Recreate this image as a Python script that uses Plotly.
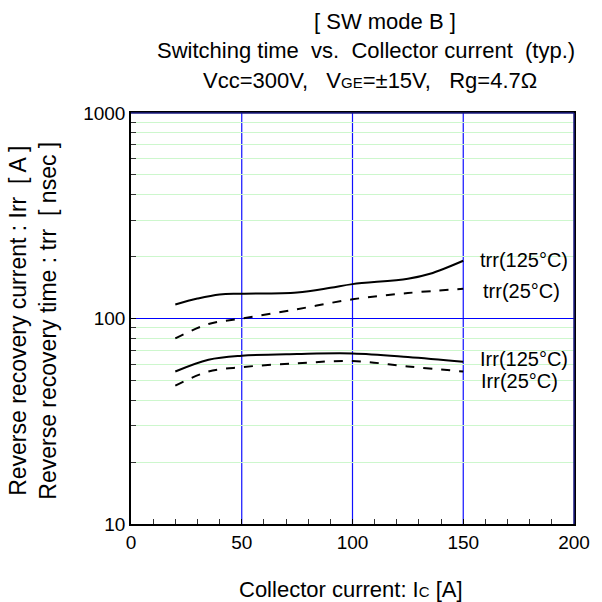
import plotly.graph_objects as go

# ---- data ----
x_trr125 = [20, 30, 40, 50, 75, 90, 100, 125, 135, 150]
y_trr125 = [117, 125, 131, 132, 134, 141, 147, 156, 165, 191]

x_trr25 = [20, 35, 50, 75, 100, 125, 150]
y_trr25 = [80, 94, 100, 111, 124, 133, 139.5]

x_irr125 = [20, 35, 50, 75, 100, 125, 150]
y_irr125 = [55.2, 63, 65.9, 67.2, 67.6, 65, 61.6]

x_irr25 = [20, 35, 50, 75, 100, 125, 150]
y_irr25 = [47.1, 55.2, 58, 60.5, 62.1, 58.4, 55.2]

curve_labels = ["trr(125°C)", "trr(25°C)", "Irr(125°C)", "Irr(25°C)"]
x_major_grid = [50, 100, 150]

FONT = "Arial, Liberation Sans, sans-serif"

fig = go.Figure()
series = [
    (x_trr125, y_trr125, "solid"),
    (x_trr25, y_trr25, "dash"),
    (x_irr125, y_irr125, "solid"),
    (x_irr25, y_irr25, "dash"),
]
for (xs, ys, dash), name in zip(series, curve_labels):
    fig.add_trace(go.Scatter(
        x=xs, y=ys, mode="lines", name=name,
        line=dict(color="black", width=2, dash=dash, shape="spline", smoothing=1.0),
        showlegend=False,
    ))

L, R, T, B = 131, 16, 113, 78
W = H = 602
pw = W - L - R
ph = H - T - B

def px2paper(px, py):
    return (px - L) / pw, (H - B - py) / ph

fig.update_layout(
    width=W, height=H,
    margin=dict(l=L, r=R, t=T, b=B, pad=0),
    paper_bgcolor="white", plot_bgcolor="white",
    font=dict(family=FONT, size=19, color="black"),
    xaxis=dict(
        range=[0, 200], dtick=50, tick0=0,
        showgrid=False,
        zeroline=False,
        showline=True, linecolor="black", linewidth=1.5, mirror=True,
        ticks="inside", ticklen=5, tickcolor="black",
        minor=dict(dtick=10, ticks="inside", ticklen=5, tickcolor="#333333", showgrid=False),
        tickfont=dict(size=19),
    ),
    yaxis=dict(
        type="log", range=[1, 3], dtick=1,
        showgrid=True, gridcolor="#0000ff", gridwidth=1,
        zeroline=False,
        showline=True, linecolor="black", linewidth=1.5, mirror=True,
        ticks="inside", ticklen=5, tickcolor="black",
        minor=dict(dtick="D1", ticks="inside", ticklen=5, tickcolor="#333333",
                   showgrid=True, gridcolor="#cdf7cd", gridwidth=1),
        tickfont=dict(size=19),
    ),
)

# vertical major grid lines (blue)
for gx in x_major_grid:
    fig.add_shape(type="line", xref="x", yref="paper", x0=gx, x1=gx, y0=0, y1=1,
                  line=dict(color="#1010ff", width=1.2), layer="below")

# navy top/right frame
fig.add_shape(type="line", xref="paper", yref="paper", x0=0, x1=1, y0=1, y1=1,
              line=dict(color="#1a1a80", width=1.5))
fig.add_shape(type="line", xref="paper", yref="paper", x0=1, x1=1, y0=0, y1=1,
              line=dict(color="#1a1a80", width=1.5))

# titles
title_lines = [
    ("[ SW mode B ]", 392, 21),
    ("Switching time  vs.  Collector current  (typ.)", 372, 51),
    ("Vcc=300V,   V<span style='font-size:15px'>GE</span>=±15V,   Rg=4.7Ω", 376, 80),
]
for text, cx, cy in title_lines:
    ax_, ay_ = px2paper(cx, cy)
    fig.add_annotation(text=text, xref="paper", yref="paper", x=ax_, y=ay_,
                       showarrow=False, xanchor="center", yanchor="middle",
                       font=dict(size=22))

# axis titles
ax_, ay_ = px2paper(357, 589)
fig.add_annotation(text="Collector current: I<span style='font-size:15px'>C</span> [A]",
                   xref="paper", yref="paper", x=ax_, y=ay_, showarrow=False,
                   xanchor="center", yanchor="middle", font=dict(size=22))
ax_, ay_ = px2paper(30, 321)
fig.add_annotation(text="Reverse recovery current : Irr  [ A ]<br>Reverse recovery time : trr  [ nsec ]",
                   xref="paper", yref="paper", x=ax_, y=ay_, showarrow=False,
                   textangle=-90, xanchor="center", yanchor="middle",
                   font=dict(size=23))

# curve labels
label_pos = [(535, 260), (532, 291), (535, 359), (530, 381)]
for text, (cx, cy) in zip(curve_labels, label_pos):
    ax_, ay_ = px2paper(cx, cy)
    fig.add_annotation(text=text, xref="paper", yref="paper", x=ax_, y=ay_,
                       showarrow=False, xanchor="center", yanchor="middle",
                       font=dict(size=20))

fig.write_html("out.html")
